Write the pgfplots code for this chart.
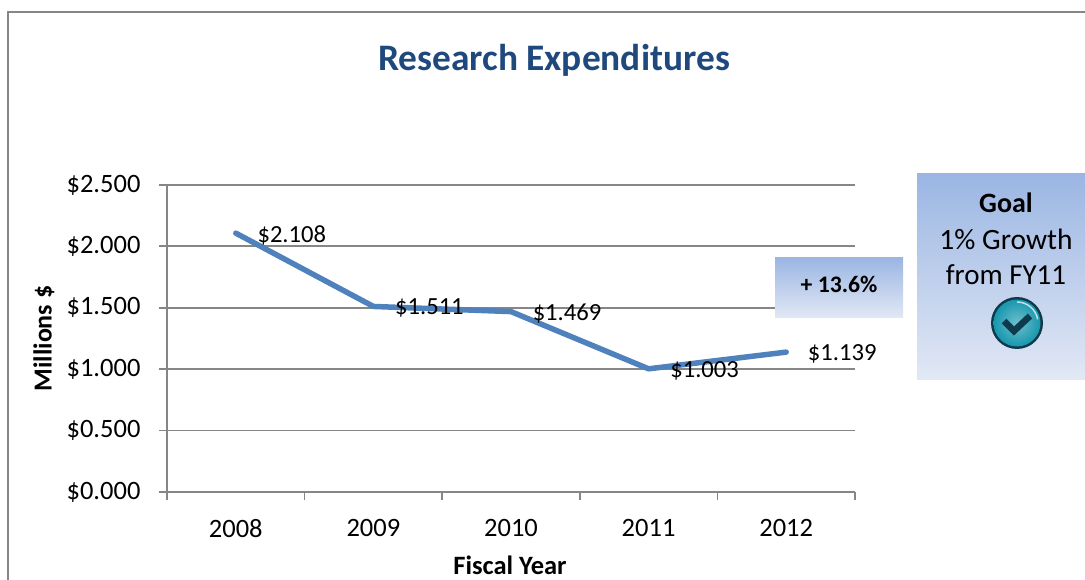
\documentclass[border=0pt]{standalone}
\usepackage{fontspec}
\setmainfont{Carlito}
\usepackage{pgfplots}
\pgfplotsset{compat=1.18}
\definecolor{gridg}{HTML}{868686}
\definecolor{lineb}{HTML}{4F81BD}
\definecolor{titleb}{HTML}{1F497D}
\definecolor{boxtop}{HTML}{9BB6E3}
\definecolor{boxbot}{HTML}{E2E8F5}
\definecolor{balldark}{HTML}{0E3A4C}
\definecolor{ballmid}{HTML}{1797AE}
\definecolor{balllight}{HTML}{6FBFCD}
\begin{document}
\begin{tikzpicture}[x=1pt,y=1pt]
\path[use as bounding box] (0,0) rectangle (1085,580);
\draw[gridg,line width=2pt] (8,0) -- (8,568) -- (1085,568);
\begin{axis}[
  at={(167pt,88pt)}, anchor=south west,
  scale only axis, width=688pt, height=307pt,
  xmin=-0.5, xmax=4.5, ymin=0, ymax=2.5,
  axis x line=bottom, axis y line=left,
  axis line style={gridg,line width=1.8pt,-},
  xtick={-0.5,0.5,1.5,2.5,3.5,4.5},
  x tick label as interval,
  xticklabels={2008,2009,2010,2011,2012},
  ytick={0,0.5,1,1.5,2,2.5},
  yticklabel={\$\pgfmathprintnumber[fixed,fixed zerofill,precision=3]{\tick}},
  /pgf/number format/assume math mode=true,
  ymajorgrids,
  grid style={gridg,line width=1.8pt},
  tick style={gridg,line width=1.8pt},
  major tick length=8pt,
  tick align=outside,
  tick label style={font=\fontsize{26.5}{26.5}\selectfont,text=black},
  yticklabel style={xshift=-15pt},
  xticklabel style={yshift=-16pt},
  title={Research Expenditures},
  title style={at={(axis description cs:0.5625,1.385)},anchor=center,font=\fontsize{37.4}{37.4}\selectfont\bfseries,text=titleb},
  xlabel={Fiscal Year},
  xlabel style={at={(axis description cs:0.4985,-0.24)},anchor=center,font=\fontsize{26.5}{26.5}\selectfont\bfseries},
  ylabel={Millions \$},
  ylabel style={at={(axis description cs:-0.179,0.5)},anchor=center,font=\fontsize{26}{26}\selectfont\bfseries},
  nodes near coords={\$\pgfmathprintnumber[fixed,fixed zerofill,precision=3]{\pgfplotspointmeta}},
  nodes near coords style={anchor=west,font=\fontsize{24.6}{24.6}\selectfont,text=black,xshift=19pt,yshift=-2pt,inner sep=0pt},
  clip=false,
]
\addplot[lineb,line width=5.5pt,line join=round,line cap=round,mark=none] coordinates {
 (0,2.108) (1,1.511) (2,1.469) (3,1.003) (4,1.139)};
\end{axis}
\shade[top color=boxtop,bottom color=boxbot] (775,322) rectangle (903,262);
\node[font=\fontsize{23.7}{23.7}\selectfont\bfseries] at (839,296) {+ 13.6\%};
\shade[top color=boxtop,bottom color=boxbot] (917,406) rectangle (1085,200);
\node[font=\fontsize{28}{28}\selectfont\bfseries] at (1006,377) {Goal};
\node[font=\fontsize{29.5}{29.5}\selectfont] at (1006,341) {1\% Growth};
\node[font=\fontsize{29}{29}\selectfont] at (1006,305) {from FY11};
\fill[balldark] (1017,257) circle (26);
\shade[inner color=balllight,outer color=ballmid] (1017,257) circle (23.5);
\draw[white,opacity=.7,line width=1.5pt] (1017,278) arc (90:10:21);
\draw[balldark,line width=6.5pt,line join=miter] (1004,259) -- (1014,249) -- (1030,264);
\end{tikzpicture}
\end{document}
